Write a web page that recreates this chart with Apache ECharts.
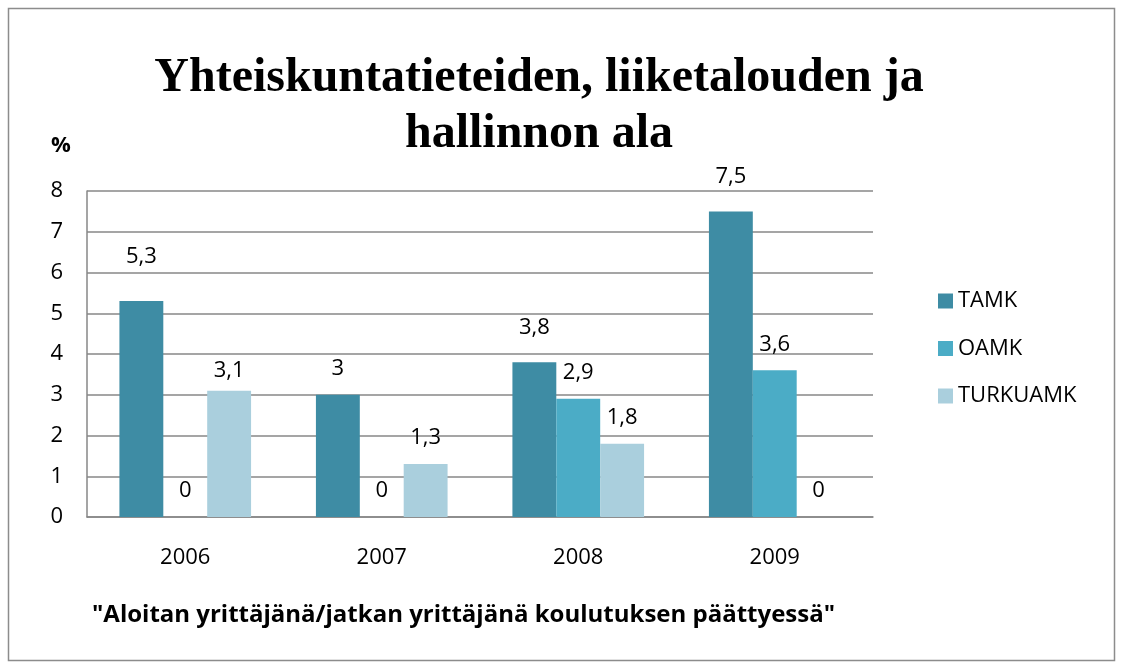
<!DOCTYPE html>
<html>
<head>
<meta charset="utf-8">
<script src="https://cdn.jsdelivr.net/npm/echarts@6/dist/echarts.min.js"></script>
<style>
  html, body { margin: 0; padding: 0; background: #fff; }
  #chart { width: 1123px; height: 669px; }
</style>
</head>
<body>
<div id="chart"></div>
<script>
// data
const years = ['2006', '2007', '2008', '2009']
const seriesNames = ['TAMK', 'OAMK', 'TURKUAMK']
const tamk = [5.3, 3, 3.8, 7.5]
const oamk = [0, 0, 2.9, 3.6]
const turkuamk = [3.1, 1.3, 1.8, 0]
const yTicks = [0, 1, 2, 3, 4, 5, 6, 7, 8]

// some labels were dragged by hand in the original, nudge them (px)
const labelNudge = {
  TAMK: [-18, 0, -8, -9],
  OAMK: [0, 0, 0, 0],
  TURKUAMK: [6, 0, 0, 0]
}
const colors = ['#3e8ca4', '#4bacc6', '#aacfdd']
const txtFont = 'Open Sans'
const txtSize = 22

const chart = echarts.init(document.getElementById('chart'))

function makeSeries(name, values, idx) {
  return {
    name: name,
    type: 'bar',
    barGap: 0,
    barCategoryGap: '33%',
    data: values.map((v, i) => ({
      value: v,
      label: { offset: [0, labelNudge[name][i]] }
    })),
    itemStyle: { color: colors[idx] },
    label: {
      show: true,
      position: 'top',
      distance: 15,
      color: '#000',
      fontFamily: txtFont,
      fontSize: txtSize,
      formatter: p => String(p.value).replace('.', ',')
    }
  }
}

const option = {
  animation: false,
  color: colors,
  title: {
    text: 'Yhteiskuntatieteiden, liiketalouden ja\nhallinnon ala',
    left: 534,
    top: 46,
    textAlign: 'center',
    textStyle: {
      fontFamily: 'Liberation Serif',
      fontWeight: 'bold',
      fontSize: 48,
      lineHeight: 56,
      color: '#000'
    }
  },
  legend: {
    orient: 'vertical',
    left: 933,
    top: 285,
    itemWidth: 15,
    itemHeight: 15,
    itemGap: 25.5,
    icon: 'rect',
    data: seriesNames,
    textStyle: { fontFamily: txtFont, fontSize: txtSize, color: '#000' }
  },
  grid: { left: 87, right: 250, top: 191, bottom: 152 },
  xAxis: {
    type: 'category',
    data: years,
    axisTick: { show: false },
    axisLine: { lineStyle: { color: '#878787', width: 1.5 } },
    axisLabel: { color: '#000', fontFamily: txtFont, fontSize: txtSize, margin: 30 }
  },
  yAxis: {
    type: 'value',
    min: yTicks[0],
    max: yTicks[yTicks.length - 1],
    interval: 1,
    axisLine: { show: true, lineStyle: { color: '#878787', width: 1.5 } },
    axisTick: { show: false },
    splitLine: { lineStyle: { color: '#878787', width: 1.5 } },
    axisLabel: { color: '#000', fontFamily: txtFont, fontSize: txtSize, margin: 24 }
  },
  graphic: [
    {
      type: 'rect',
      shape: { x: 8.5, y: 8.5, width: 1106, height: 652 },
      style: { fill: null, stroke: '#8c8c8c', lineWidth: 1.5 },
      silent: true
    },
    {
      type: 'text',
      left: 51,
      top: 135,
      style: { text: '%', fontFamily: txtFont, fontWeight: 'bold', fontSize: txtSize, fill: '#000' }
    },
    {
      type: 'text',
      left: 92,
      top: 603,
      style: {
        text: '"Aloitan yrittäjänä/jatkan yrittäjänä koulutuksen päättyessä"',
        fontFamily: txtFont,
        fontWeight: 'bold',
        fontSize: 24,
        fill: '#000'
      }
    }
  ],
  series: [
    makeSeries('TAMK', tamk, 0),
    makeSeries('OAMK', oamk, 1),
    makeSeries('TURKUAMK', turkuamk, 2)
  ]
}

chart.setOption(option)
window.onresize = chart.resize
</script>
</body>
</html>
